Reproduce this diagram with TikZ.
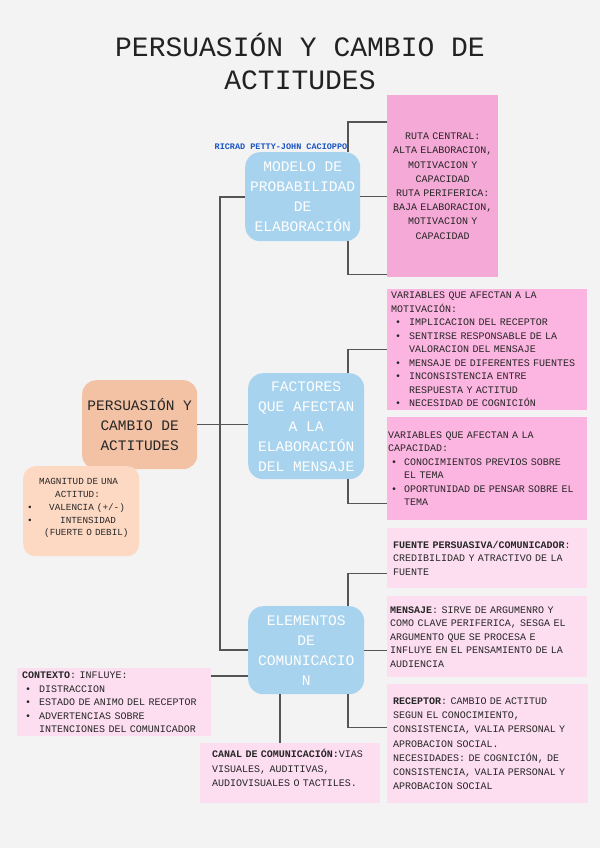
\documentclass[tikz,border=0pt]{standalone}
\usepackage{fontspec}
\setmainfont{Liberation Mono}
\setmonofont{Liberation Mono}
\usetikzlibrary{calc}
\definecolor{bgc}{HTML}{F3F3F3}
\definecolor{bluec}{HTML}{A8D3EE}
\definecolor{peachc}{HTML}{F3C2A4}
\definecolor{peachl}{HTML}{FDD9C4}
\definecolor{pinkd}{HTML}{F5A9D6}
\definecolor{pinkm}{HTML}{FCB5E1}
\definecolor{pinkl}{HTML}{FDDEF1}
\definecolor{linec}{HTML}{555555}
\definecolor{namec}{HTML}{1A56C4}
\definecolor{titlec}{HTML}{222222}
\newcommand{\fsz}[2]{\fontsize{#1}{#2}\selectfont}
\newcommand{\bitem}[3]{\hspace*{#1pt}\makebox[#2pt][l]{•}#3}
\tikzset{
  conn/.style={draw=linec, line width=1.4pt},
  bluenode/.style={fill=bluec, rounded corners=15pt, text=white, align=center,
    font=\fsz{14.6}{20}, inner sep=0pt, anchor=north west},
  txtbox/.style={anchor=north west, align=left, inner ysep=0pt, font=\fsz{10}{13.5}, text=black!85},
}
\begin{document}
\begin{tikzpicture}[x=1pt,y=-1pt]
\useasboundingbox (0,0) rectangle (600,848);
\fill[bgc] (0,0) rectangle (600,848);

% title
\node[font=\fsz{28}{33}, text=titlec, align=center] (title) at (300,61)
  {PERSUASIÓN Y CAMBIO DE\\ACTITUDES};

% author label
\node[font=\bfseries\fsz{8.5}{10}, text=namec] (auth) at (281,147) {RICRAD PETTY-JOHN CACIOPPO};

% blue nodes
\node[bluenode, minimum width=115pt, minimum height=89pt] (b1) at (245,152)
  {MODELO DE\\PROBABILIDAD\\DE\\ELABORACIÓN};
\node[bluenode, minimum width=116pt, minimum height=106pt] (b2) at (248,373)
  {FACTORES\\QUE AFECTAN\\A LA\\ELABORACIÓN\\DEL MENSAJE};
\node[bluenode, minimum width=116pt, minimum height=88pt] (b3) at (248,606)
  {ELEMENTOS\\DE\\COMUNICACIO\\N};

% central node
\node[fill=peachc, rounded corners=14pt, align=center, font=\fsz{14.5}{20}, text=black!85,
  inner sep=0pt, minimum width=115pt, minimum height=89pt, anchor=north west] (pc) at (82,380)
  {PERSUASIÓN Y\\CAMBIO DE\\ACTITUDES};

% magnitud
\node[txtbox, fill=peachl, rounded corners=12pt, font=\fsz{9.3}{12.8}, inner xsep=4pt,
  text width=108pt, minimum height=90pt] (mg) at (23,466)
  {\hspace*{12pt}MAGNITUD DE UNA\\
   \hspace*{28pt}ACTITUD:\\
   \makebox[22pt][l]{•}VALENCIA (+/-)\\
   \makebox[33pt][l]{•}INTENSIDAD\\
   \hspace*{17pt}(FUERTE O DEBIL)\par\vspace*{6pt}};

% ruta box
\node[txtbox, align=center, fill=pinkd, font=\fsz{10}{14.2}, inner xsep=3pt,
  text width=105pt, minimum height=182pt] (rc) at (387,95)
  {RUTA CENTRAL:\\ALTA ELABORACION,\\MOTIVACION Y\\CAPACIDAD\\RUTA PERIFERICA:\\BAJA ELABORACION,\\MOTIVACION Y\\CAPACIDAD};

% variables motivacion
\node[txtbox, fill=pinkm, inner xsep=4pt, text width=192pt, minimum height=121pt] (vm) at (387,289)
  {VARIABLES QUE AFECTAN A LA\\
   MOTIVACIÓN:\\
   \bitem{4}{14}{IMPLICACION DEL RECEPTOR}\\
   \bitem{4}{14}{SENTIRSE RESPONSABLE DE LA}\\
   \hspace*{18pt}VALORACION DEL MENSAJE\\
   \bitem{4}{14}{MENSAJE DE DIFERENTES FUENTES}\\
   \bitem{4}{14}{INCONSISTENCIA ENTRE}\\
   \hspace*{18pt}RESPUESTA Y ACTITUD\\
   \bitem{4}{14}{NECESIDAD DE COGNICIÓN}};

% variables capacidad
\node[txtbox, fill=pinkm, inner xsep=1pt, text width=198pt, minimum height=103pt] (vc) at (387,417)
  {VARIABLES QUE AFECTAN A LA\\
   CAPACIDAD:\\
   \bitem{3}{13}{CONOCIMIENTOS PREVIOS SOBRE}\\
   \hspace*{16pt}EL TEMA\\
   \bitem{3}{13}{OPORTUNIDAD DE PENSAR SOBRE EL}\\
   \hspace*{16pt}TEMA};

% fuente
\node[txtbox, fill=pinkl, inner xsep=6pt, text width=188pt, minimum height=60pt] (fu) at (387,528)
  {\textbf{FUENTE PERSUASIVA/COMUNICADOR}:\\
   CREDIBILIDAD Y ATRACTIVO DE LA\\
   FUENTE};

% mensaje
\node[txtbox, fill=pinkl, inner xsep=3pt, text width=194pt, minimum height=81pt] (me) at (387,596)
  {\textbf{MENSAJE}: SIRVE DE ARGUMENRO Y\\
   COMO CLAVE PERIFERICA, SESGA EL\\
   ARGUMENTO QUE SE PROCESA E\\
   INFLUYE EN EL PENSAMIENTO DE LA\\
   AUDIENCIA};

% receptor
\node[txtbox, fill=pinkl, font=\fsz{10}{14.2}, inner xsep=6pt, text width=189pt, minimum height=119pt] (re) at (387,684)
  {\textbf{RECEPTOR}: CAMBIO DE ACTITUD\\
   SEGUN EL CONOCIMIENTO,\\
   CONSISTENCIA, VALIA PERSONAL Y\\
   APROBACION SOCIAL.\\
   NECESIDADES: DE COGNICIÓN, DE\\
   CONSISTENCIA, VALIA PERSONAL Y\\
   APROBACION SOCIAL};

% contexto
\node[txtbox, fill=pinkl, inner xsep=3pt, text width=188pt, minimum height=68pt] (cx) at (17,668)
  {\hspace*{2pt}\textbf{CONTEXTO}: INFLUYE:\\
   \bitem{5}{14}{DISTRACCION}\\
   \bitem{5}{14}{ESTADO DE ANIMO DEL RECEPTOR}\\
   \bitem{5}{14}{ADVERTENCIAS SOBRE}\\
   \hspace*{19pt}INTENCIONES DEL COMUNICADOR};

% canal
\node[txtbox, fill=pinkl, font=\fsz{10}{14.5}, inner xsep=10pt, text width=160pt, minimum height=60pt] (ca) at (200,743)
  {\hspace*{2pt}\textbf{CANAL DE COMUNICACIÓN:}VIAS\\
   \hspace*{2pt}VISUALES, AUDITIVAS,\\
   \hspace*{2pt}AUDIOVISUALES O TACTILES.\par\vspace*{10pt}};

% helper coordinates
\coordinate (kx) at (348,0);
\coordinate (kc) at (280,0);
\coordinate (tA) at (220,197);
\coordinate (tB) at (220,650);

% connectors
\draw[conn] (b1.west |- tA) -- (tA) -- (tB) -- (b3.west |- tB);
\draw[conn] (pc.east) -- (pc.east -| b2.west);
\draw[conn] (b1.north -| kx) |- ([yshift=-27pt]rc.north west);
\draw[conn] (b1.east) -- (b1.east -| rc.west);
\draw[conn] (b1.south -| kx) |- ([yshift=3pt]rc.south west);
\draw[conn] (b2.north -| kx) |- (vm.west);
\draw[conn] (b2.south -| kx) |- ([yshift=17pt]vc.south west);
\draw[conn] (b3.north -| kx) |- ([yshift=-15pt]fu.west);
\draw[conn] (b3.east) -- (b3.east -| me.west);
\draw[conn] (b3.south -| kx) |- ([yshift=16pt]re.west);
\coordinate (cxl) at ([yshift=-8pt]cx.north east);
\draw[conn] (cxl) -- (cxl -| b3.west);
\draw[conn] (b3.south -| kc) -- (ca.north -| kc);
\end{tikzpicture}
\end{document}
